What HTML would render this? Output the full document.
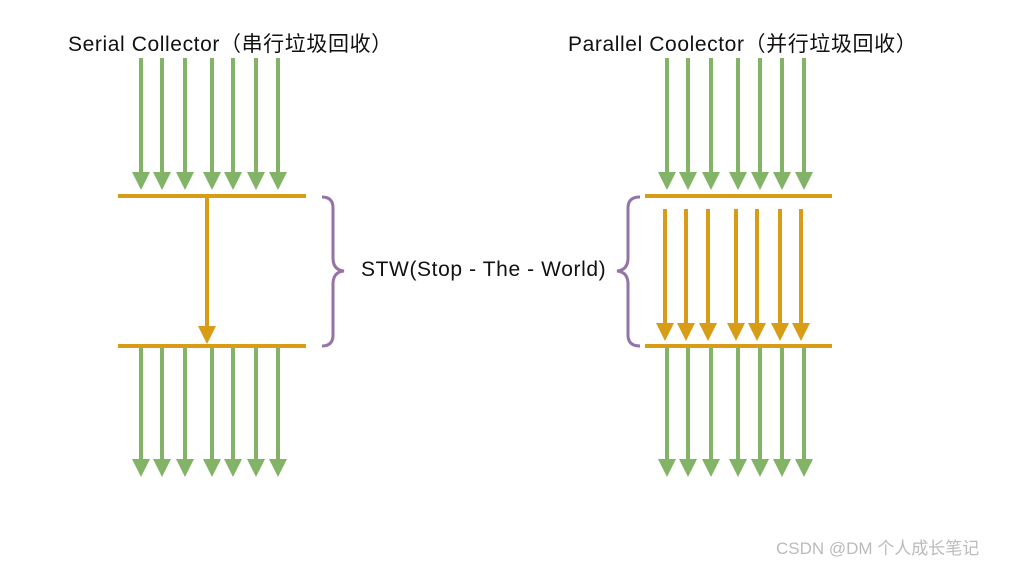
<!DOCTYPE html>
<html><head><meta charset="utf-8"><style>
body{margin:0;background:#fff;width:1012px;height:563px;overflow:hidden;position:relative;font-family:"Liberation Sans","Noto Sans CJK SC",sans-serif}
.t{position:absolute;font-size:21px;letter-spacing:0.6px;color:#111;white-space:nowrap}
</style></head><body>
<div class="t" style="left:68px;top:28px">Serial Collector（串行垃圾回收）</div>
<div class="t" style="left:568px;top:28px">Parallel Coolector（并行垃圾回收）</div>
<div class="t" style="left:361px;top:258px">STW(Stop - The - World)</div>
<div class="t" style="left:776px;top:534px;font-size:17px;letter-spacing:0;color:#bbb">CSDN @DM 个人成长笔记</div>
<svg width="1012" height="563" style="position:absolute;left:0;top:0" xmlns="http://www.w3.org/2000/svg">
<defs>
<g id="g1"><line x1="0" y1="58" x2="0" y2="176" stroke="#82b366" stroke-width="4"/><polygon points="-9,172 9,172 0,190" fill="#82b366"/></g>
<g id="g2"><line x1="0" y1="348" x2="0" y2="463" stroke="#82b366" stroke-width="4"/><polygon points="-9,459 9,459 0,477" fill="#82b366"/></g>
<g id="o1"><line x1="0" y1="209" x2="0" y2="327" stroke="#d99c17" stroke-width="4"/><polygon points="-9,323 9,323 0,341" fill="#d99c17"/></g>
</defs>
<use href="#g1" x="141"/><use href="#g1" x="162"/><use href="#g1" x="185"/><use href="#g1" x="212"/><use href="#g1" x="233"/><use href="#g1" x="256"/><use href="#g1" x="278"/>
<use href="#g2" x="141"/><use href="#g2" x="162"/><use href="#g2" x="185"/><use href="#g2" x="212"/><use href="#g2" x="233"/><use href="#g2" x="256"/><use href="#g2" x="278"/>
<use href="#g1" x="667"/><use href="#g1" x="688"/><use href="#g1" x="711"/><use href="#g1" x="738"/><use href="#g1" x="760"/><use href="#g1" x="782"/><use href="#g1" x="804"/>
<use href="#g2" x="667"/><use href="#g2" x="688"/><use href="#g2" x="711"/><use href="#g2" x="738"/><use href="#g2" x="760"/><use href="#g2" x="782"/><use href="#g2" x="804"/>
<use href="#o1" x="665"/><use href="#o1" x="686"/><use href="#o1" x="708"/><use href="#o1" x="736"/><use href="#o1" x="757"/><use href="#o1" x="780"/><use href="#o1" x="801"/>
<line x1="207" y1="197" x2="207" y2="330" stroke="#d99c17" stroke-width="4"/>
<polygon points="198,326 216,326 207,344" fill="#d99c17"/>
<line x1="118" y1="196" x2="306" y2="196" stroke="#d99c17" stroke-width="4"/>
<line x1="118" y1="346" x2="306" y2="346" stroke="#d99c17" stroke-width="4"/>
<line x1="645" y1="196" x2="832" y2="196" stroke="#d99c17" stroke-width="4"/>
<line x1="645" y1="346" x2="832" y2="346" stroke="#d99c17" stroke-width="4"/>
<path d="M322,197 Q333,197 333,208 L333,258 Q333,270 344,271 Q333,272 333,284 L333,335 Q333,346 322,346" fill="none" stroke="#9673a6" stroke-width="3"/>
<path d="M640,197 Q628,197 628,208 L628,258 Q628,270 617,271 Q628,272 628,284 L628,335 Q628,346 640,346" fill="none" stroke="#9673a6" stroke-width="3"/>
</svg>
</body></html>
